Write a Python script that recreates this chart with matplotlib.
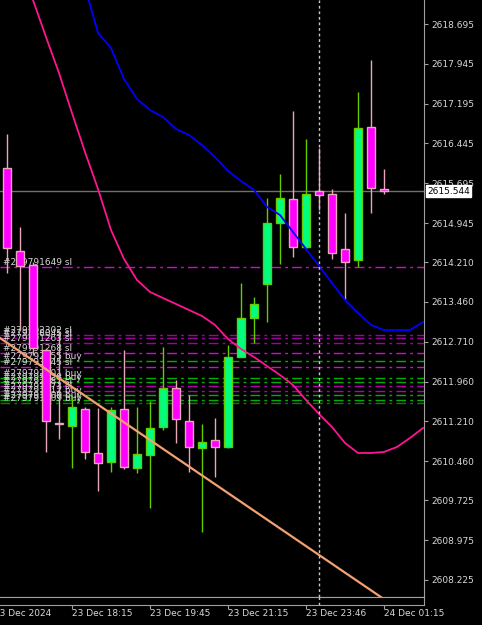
import matplotlib.pyplot as plt

# 15 min bars, bar 0 = leftmost candle on screen
opens = [2615.983, 2614.420, 2614.156, 2612.556, 2611.181, 2611.125, 2611.445, 2610.616,
         2610.447, 2611.445, 2610.334, 2610.578, 2611.106, 2611.840, 2611.219, 2610.710,
         2610.861, 2610.729, 2612.424, 2613.158, 2613.799, 2614.947, 2615.399, 2614.495,
         2615.550, 2615.494, 2614.458, 2614.251, 2616.755, 2615.588]
highs = [2616.623, 2614.872, 2614.213, 2612.593, 2612.895, 2611.671, 2611.482, 2611.464,
         2611.482, 2612.556, 2611.482, 2611.595, 2612.612, 2611.991, 2611.708, 2611.162,
         2611.275, 2612.650, 2613.817, 2613.554, 2615.418, 2615.870, 2617.057, 2616.529,
         2616.360, 2615.588, 2615.136, 2617.414, 2618.017, 2615.964]
lows = [2614.006, 2612.932, 2612.462, 2610.635, 2610.880, 2610.334, 2610.503, 2609.900,
        2610.258, 2610.315, 2610.239, 2609.580, 2611.049, 2610.804, 2610.258, 2609.128,
        2610.164, 2610.710, 2612.424, 2612.688, 2613.083, 2614.175, 2614.307, 2614.439,
        2615.192, 2614.269, 2613.516, 2614.119, 2615.136, 2615.494]
closes = [2614.477, 2614.138, 2612.593, 2611.219, 2611.162, 2611.482, 2610.635, 2610.428,
          2611.426, 2610.352, 2610.597, 2611.087, 2611.840, 2611.256, 2610.729, 2610.823,
          2610.729, 2612.424, 2613.158, 2613.422, 2614.947, 2615.418, 2614.495, 2615.494,
          2615.475, 2614.382, 2614.213, 2616.736, 2615.607, 2615.544]

# moving averages (shifted 3 bars forward)
ma_pink_x = list(range(0, 33))
ma_pink = [2620.616, 2619.863, 2619.147, 2618.450, 2617.772, 2617.019, 2616.285, 2615.588,
           2614.816, 2614.269, 2613.874, 2613.648, 2613.535, 2613.422, 2613.309, 2613.196,
           2613.027, 2612.763, 2612.575, 2612.424, 2612.254, 2612.085, 2611.897, 2611.614,
           2611.351, 2611.106, 2610.804, 2610.616, 2610.616, 2610.635, 2610.729, 2610.899,
           2611.087]
ma_blue_x = list(range(4, 33))
ma_blue = [2620.484, 2619.938, 2619.392, 2618.526, 2618.243, 2617.659, 2617.283, 2617.075,
           2616.944, 2616.718, 2616.605, 2616.416, 2616.190, 2615.927, 2615.738, 2615.569,
           2615.249, 2615.098, 2614.778, 2614.458, 2614.138, 2613.817, 2613.497, 2613.253,
           2613.027, 2612.932, 2612.932, 2612.932, 2613.083]

trend_x = [-1, 30]
trend_y = [2612.859, 2607.697]

order_prices = [2614.119, 2612.838, 2612.782, 2612.688, 2612.499, 2612.349, 2612.236,
                2612.028, 2611.953, 2611.878, 2611.784, 2611.708, 2611.614, 2611.558]
order_labels = ["#279791649 sl", "#279792302 sl", "#279788045 sl", "#279791263 sl",
                "#279791268 sl", "#279792155 buy", "#279793045 sl", "#279792301 buy",
                "#279793028 buy", "#279792987 sl", "#279791873 sl", "#279791812 buy",
                "#279791109 buy", "#279791709 buy"]
order_colors = ["#e000e0", "#a000a0", "#a000a0", "#a000a0", "#e000e0", "#00b000", "#e000e0",
                "#00b000", "#00b000", "#b000b0", "#b000b0", "#00b000", "#00b000", "#008000"]

price_now = 2615.544
cursor_bar = 24

ytick_vals = [2618.695, 2617.945, 2617.195, 2616.445, 2615.695, 2614.945, 2614.210, 2613.460,
              2612.710, 2611.960, 2611.210, 2610.460, 2609.725, 2608.975, 2608.225]
xtick_bars = [-1, 5, 11, 17, 23, 29]
xtick_labels = ["23 Dec 2024", "23 Dec 18:15", "23 Dec 19:45", "23 Dec 21:15",
                "23 Dec 23:46", "24 Dec 01:15"]

W, H = 482, 625
fig = plt.figure(figsize=(W / 100, H / 100), dpi=100, facecolor="black")
ax = fig.add_axes([0, 28 / H, 424 / W, 597 / H], facecolor="black")
sub = fig.add_axes([0, 20 / H, 424 / W, 8 / H], facecolor="black", sharex=ax)

txt = "#d8d8d8"
grey = "#a0a0a0"

# order lines + labels
for p, lab, col in zip(order_prices, order_labels, order_colors):
    ax.axhline(p, color=col, lw=1, ls=(0, (7, 3, 2, 3)), zorder=1)
    ax.text(0.006, p, lab, transform=ax.get_yaxis_transform(), color=txt,
            fontsize=6.5, va="bottom", ha="left", zorder=2)

ax.axhline(price_now, color="#707070", lw=1, zorder=1)

# candles
for i, (o, h, l, c) in enumerate(zip(opens, highs, lows, closes)):
    if c > o:
        fill, edge = "#00ff7f", "#66cc00"
    else:
        fill, edge = "#ff00ff", "#e8a8b8"
    ax.vlines(i, l, h, color=edge, lw=1, zorder=3)
    ax.bar(i, max(abs(c - o), 0.012), bottom=min(o, c), width=0.68,
           color=fill, edgecolor=edge, lw=1, zorder=4)

ax.plot(trend_x, trend_y, color="#f4a070", lw=1.6, zorder=5)
ax.plot(ma_pink_x, ma_pink, color="#ff1493", lw=1.3, zorder=6)
ax.plot(ma_blue_x, ma_blue, color="#0000ff", lw=1.3, zorder=6)

for a in (ax, sub):
    a.axvline(cursor_bar, color="#c8c8c8", lw=1, ls=(0, (2, 2)), zorder=7)

ax.set_xlim(-0.538, 32.077)
ax.set_ylim(2607.904, 2619.147)

ax.yaxis.tick_right()
ax.set_yticks(ytick_vals)
ax.set_yticklabels([f"{v:.3f}" for v in ytick_vals])
ax.tick_params(axis="y", colors=grey, labelcolor=txt, labelsize=6.5, length=3, pad=2)
ax.tick_params(axis="x", bottom=False, labelbottom=False)
for s in ("left", "top"):
    ax.spines[s].set_visible(False)
for s in ("right", "bottom"):
    ax.spines[s].set_color(grey)

ax.annotate(f"{price_now:.3f}", xy=(1, price_now), xycoords=ax.get_yaxis_transform(),
            xytext=(2.2, 0), textcoords="offset points", ha="left", va="center",
            fontsize=6.5, color="black", annotation_clip=False, zorder=10,
            bbox=dict(boxstyle="square,pad=0.15", fc="white", ec="white"))

sub.set_yticks([])
sub.spines["left"].set_visible(False)
for s in ("right", "bottom", "top"):
    sub.spines[s].set_color(grey)
sub.set_xticks(xtick_bars[1:])
sub.tick_params(axis="x", colors=grey, length=3, labelbottom=False)
for b, lab in zip(xtick_bars, xtick_labels):
    sub.annotate(lab, xy=(b, 0), xycoords=sub.get_xaxis_transform(), xytext=(0, -3.2),
                 textcoords="offset points", ha="left", va="top", fontsize=6.5,
                 color=txt, annotation_clip=False)

fig.savefig("out.png", dpi=100, facecolor="black")
